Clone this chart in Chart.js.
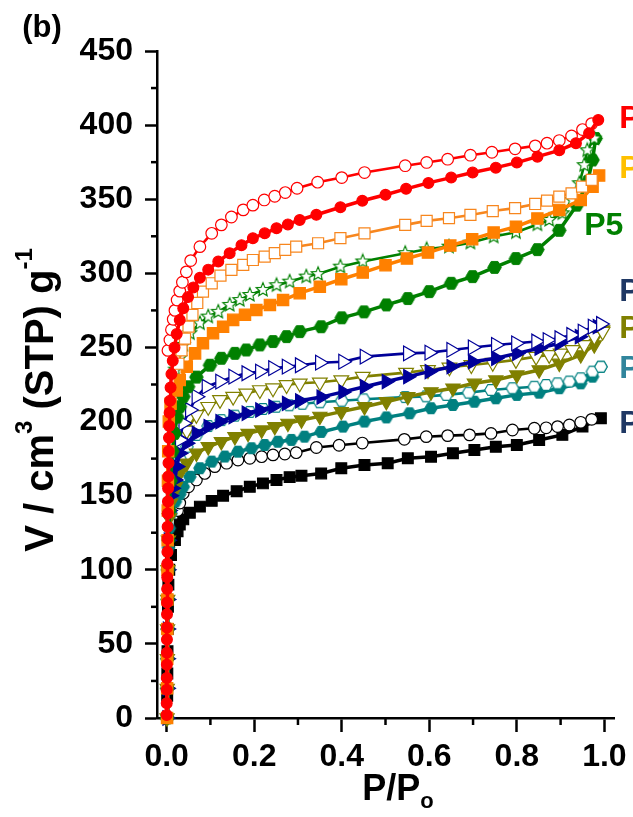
<!DOCTYPE html>
<html>
<head>
<meta charset="utf-8">
<script src="https://cdn.jsdelivr.net/npm/chart.js@4.4.0/dist/chart.umd.min.js"></script>
<style>
html, body { margin: 0; padding: 0; background: #fff; }
</style>
</head>
<body>
<canvas id="chart" width="633" height="817"></canvas>
<script>

// tick values
var xTicks = [0, 0.2, 0.4, 0.6, 0.8, 1.0];
var xMinor = [0.1, 0.3, 0.5, 0.7, 0.9];
var yTicks = [0, 50, 100, 150, 200, 250, 300, 350, 400, 450];
var yMinor = [25, 75, 125, 175, 225, 275, 325, 375, 425];

// red (adsorption filled circles / desorption open circles)
var redAdsX = [0.0001,0.0002,0.0003,0.0004,0.0005,0.0006,0.0007,0.0008,0.0009,0.001,0.0012,0.0014,0.0016,0.0018,0.002,0.0023,0.0026,0.003,0.0034,0.0038,0.0043,0.0048,0.0054,0.006,0.0068,0.0078,0.009,0.011,0.014,0.018,0.023,0.03,0.038,0.049,0.061,0.076,0.095,0.118,0.144,0.171,0.197,0.224,0.251,0.277,0.304,0.342,0.397,0.447,0.5,0.547,0.598,0.65,0.699,0.752,0.8,0.847,0.897,0.935,0.965,0.986];
var redAdsY = [2,10,19,27,36,44,53,61,70,78,87,95,104,112,121,129,138,146,155,163,172,180,189,197,206,214,223,232,241,250,259,268.5,276.5,284,290.5,297,302.5,308,313.6,319,323.7,327,330.4,333,336,339.5,344.6,349,353,357,361,364.6,368,371.3,374.7,378.7,383,387.8,394.5,403.5];
var redDesX = [0.003,0.0075,0.011,0.015,0.019,0.024,0.03,0.036,0.045,0.055,0.076,0.103,0.125,0.148,0.175,0.197,0.223,0.247,0.271,0.298,0.345,0.4,0.452,0.545,0.594,0.642,0.694,0.743,0.796,0.842,0.869,0.897,0.925,0.95,0.971];
var redDesY = [248,255,262,269,275,282,288,294,301,308.6,318,327,332.7,338,342.8,346,349.5,352,354.5,357.4,361.5,364.6,368,372.6,374.8,377,379.7,381.7,384,386,387.8,389.6,392.7,397,401];

// orange (filled / open squares)
var orgAdsX = [0.001,0.0012,0.0014,0.0016,0.0018,0.002,0.0023,0.0026,0.003,0.0036,0.005,0.009,0.023,0.03,0.046,0.065,0.083,0.106,0.129,0.152,0.179,0.205,0.236,0.266,0.304,0.35,0.399,0.448,0.5,0.549,0.597,0.648,0.698,0.747,0.798,0.847,0.897,0.946,0.973,0.988];
var orgAdsY = [0,20,40,60,80,100,120,140,160,180,200,212,221,228,237,246,252.8,259.6,264,268.6,272,275.3,278.7,282,286.6,291,296,300.5,305.5,310,314,318.7,323,327.5,331.5,337,342.8,349.5,358.5,366];
var orgDesX = [0.027,0.034,0.042,0.05,0.059,0.07,0.083,0.103,0.123,0.148,0.175,0.197,0.224,0.247,0.271,0.296,0.346,0.397,0.452,0.545,0.594,0.645,0.694,0.745,0.796,0.842,0.869,0.897,0.925,0.949,0.971];
var orgDesY = [239,248,256,264,272,280,287.7,293.3,298.4,302.3,305.7,309,311.3,313.6,315.8,318,320.3,323.7,327,332.7,335.4,337.2,339.4,342,344,346.8,349,351.8,354,358.5,363];

// green P5 (filled hexagons / open stars)
var grnAdsX = [0.001,0.0013,0.0016,0.002,0.0025,0.003,0.004,0.006,0.009,0.013,0.018,0.024,0.03,0.038,0.049,0.068,0.099,0.125,0.156,0.182,0.213,0.243,0.274,0.304,0.353,0.4,0.451,0.502,0.551,0.6,0.65,0.699,0.749,0.798,0.847,0.897,0.937,0.962,0.973,0.98];
var grnAdsY = [0,20,40,60,80,100,120,140,160,180,192,203,210,216.8,223.5,230,238,242.7,246,248.3,251.7,254,257.3,260.7,264,270,274,278.7,283,287.7,293.3,297.8,304,310,316,329,346,362,376.5,391];
var grnDesX = [0.02,0.03,0.038,0.053,0.076,0.095,0.118,0.144,0.167,0.19,0.22,0.251,0.281,0.319,0.346,0.397,0.448,0.545,0.594,0.645,0.694,0.747,0.798,0.847,0.874,0.904,0.927,0.943,0.954,0.961,0.977];
var grnDesY = [235,243,251.7,259.6,266.3,270.8,274,278.7,282,285.4,288.8,292,294.4,297.8,299.5,304.5,308,313.6,316.2,318,320.7,324.8,327.7,333,336,340.5,349.5,360.8,373,383,391];

// navy (filled / open right triangles)
var navAdsX = [0.001,0.0013,0.0016,0.002,0.0025,0.003,0.004,0.006,0.009,0.013,0.019,0.023,0.03,0.046,0.068,0.095,0.122,0.152,0.182,0.213,0.243,0.274,0.304,0.353,0.403,0.452,0.502,0.551,0.6,0.65,0.699,0.752,0.8,0.851,0.897,0.943,0.984];
var navAdsY = [0,20,40,60,80,100,120,140,150,155,160.6,169.6,178.6,185.4,192,196.6,200,203.3,205.6,207.8,210,212.3,214,216.5,220,223.5,227,230.3,233.7,237,240.4,242.7,246,249.5,252.8,257.3,264];
var navDesX = [0.03,0.038,0.053,0.068,0.091,0.122,0.152,0.182,0.213,0.243,0.274,0.304,0.35,0.403,0.452,0.551,0.6,0.65,0.699,0.752,0.798,0.844,0.87,0.897,0.924,0.95,0.973,0.992];
var navDesY = [187.6,198.8,207.8,216.8,223.5,227,230.3,232.6,233.7,236,237,238,239.7,240.4,243.8,246,246.5,248.3,250,251.7,252.8,254,255,256.2,258.4,260.7,264,265.8];

// olive (filled / open down triangles)
var oliAdsX = [0.001,0.0013,0.0016,0.002,0.0025,0.003,0.004,0.006,0.009,0.014,0.02,0.03,0.046,0.068,0.095,0.125,0.156,0.186,0.217,0.247,0.277,0.308,0.35,0.399,0.452,0.502,0.551,0.604,0.654,0.703,0.752,0.8,0.851,0.897,0.946,0.977,0.996];
var oliAdsY = [0,20,40,60,80,100,120,135,145,151,156,165,171.9,178.6,183,186.4,189.8,192,194.3,196.6,198.8,201,203.5,206.7,210,213.4,216.8,220,222.5,225.8,228,231.4,234.8,239.3,245,251.7,261.8];
var oliDesX = [0.038,0.046,0.068,0.095,0.122,0.152,0.182,0.213,0.243,0.274,0.304,0.35,0.399,0.448,0.547,0.597,0.646,0.696,0.745,0.798,0.844,0.874,0.9,0.927,0.954,0.977,0.996];
var oliDesY = [189.8,194,204.5,210,214.6,216.8,219,221.3,222.5,224.7,225.8,226.5,228,230.3,233,234.8,236.6,238.2,239.7,241.6,243.8,245,246,248.3,251.7,257.3,260.7];

// teal (filled / open hexagons)
var tealAdsX = [0.001,0.0013,0.0016,0.002,0.0025,0.003,0.004,0.006,0.01,0.02,0.03,0.038,0.053,0.076,0.103,0.133,0.163,0.194,0.224,0.254,0.285,0.315,0.353,0.403,0.452,0.502,0.555,0.604,0.654,0.703,0.752,0.8,0.851,0.897,0.946,0.973,0.992];
var tealAdsY = [0,20,40,60,80,100,115,128,138,146,151,156,162.8,168.5,173,176.4,179.7,182,184.2,186.4,187.6,189.8,193,196.6,200,202.8,205.6,209,211.2,213.4,215.7,218,219.5,222.5,225.8,230.3,237];
var tealDesX = [0.03,0.046,0.068,0.095,0.125,0.156,0.19,0.22,0.25,0.28,0.31,0.35,0.4,0.45,0.545,0.593,0.639,0.69,0.741,0.79,0.84,0.867,0.893,0.92,0.946,0.973,0.992];
var tealDesY = [175,183,191,197,201,204,206.5,208.5,210,211,212,213,214,215,216.5,217,218,219.5,221.3,222.5,223.5,224.7,225.8,227,229.2,233.7,237];

// black (filled squares / open circles)
var blkAdsX = [0.001,0.0013,0.0016,0.002,0.0025,0.003,0.004,0.006,0.01,0.019,0.025,0.03,0.038,0.053,0.076,0.103,0.129,0.16,0.19,0.22,0.251,0.281,0.308,0.353,0.399,0.452,0.505,0.551,0.604,0.654,0.703,0.752,0.8,0.851,0.904,0.95,0.992];
var blkAdsY = [0,15,30,45,60,75,90,100,110,120,126,130.5,134,138.5,142.6,146.5,150,153,156,158.3,160.6,162.5,163.5,165,168.5,170.7,171.9,175.2,176.3,178.6,180.8,183,184.2,187.6,191,196.6,202.2];
var blkDesX = [0.025,0.03,0.038,0.05,0.068,0.087,0.11,0.137,0.163,0.19,0.217,0.243,0.27,0.296,0.342,0.394,0.447,0.543,0.593,0.642,0.692,0.741,0.79,0.84,0.867,0.893,0.92,0.946,0.971];
var blkDesY = [140,145,151.6,156,160.6,165,169.6,171.9,174,175.2,176.3,177.5,178.1,179,182.5,184,185.5,188,189.8,190.5,191,192,194.3,195.5,195.8,196.6,197.7,199.5,201.5];

// curve labels at the right edge (text, colour, x, y in data units)
var curveLabels = [
	['P', '#ff0000', 1.034, 404],
	['P', '#ffc000', 1.034, 370],
	['P5', '#008000', 0.954, 332],
	['P', '#1f3864', 1.034, 287],
	['P', '#808000', 1.034, 262],
	['P', '#31859c', 1.034, 235.5],
	['P', '#1f3864', 1.034, 198.5]
];

var FONT = '"Liberation Sans", Arial, sans-serif';

function pts(xs, ys) {
	return xs.map(function(x, i) { return {x: x, y: ys[i]}; });
}

function polyImg(n, r, inner, fill, stroke, lw, start) {
	var s = Math.ceil(2 * r + lw + 2);
	var c = document.createElement('canvas');
	c.width = s; c.height = s;
	var g = c.getContext('2d');
	g.beginPath();
	var k = inner ? n * 2 : n;
	for (var i = 0; i < k; i++) {
		var a = start + i * 2 * Math.PI / k;
		var rr = (inner && i % 2) ? r * inner : r;
		var px = s / 2 + rr * Math.cos(a), py = s / 2 + rr * Math.sin(a);
		if (i) g.lineTo(px, py); else g.moveTo(px, py);
	}
	g.closePath();
	g.fillStyle = fill; g.fill();
	g.lineWidth = lw; g.strokeStyle = stroke; g.stroke();
	return c;
}

var hexGreen = polyImg(6, 6.8, 0, '#008000', '#008000', 1, 0);
var hexTeal = polyImg(6, 6.3, 0, '#008080', '#008080', 1, 0);
var hexTealOpen = polyImg(6, 6.3, 0, '#ffffff', '#008080', 1.2, 0);
var starGreen = polyImg(5, 7.2, 0.45, '#ffffff', '#008000', 1.1, -Math.PI / 2);

function series(xs, ys, color, lw, style, radius, fill, rot) {
	return {
		data: pts(xs, ys),
		showLine: true,
		borderColor: color,
		borderWidth: lw,
		pointStyle: style,
		pointRadius: radius,
		pointBackgroundColor: fill,
		pointBorderColor: color,
		pointBorderWidth: 1.2,
		pointRotation: rot || 0,
		clip: false
	};
}

var datasets = [
	series(redAdsX, redAdsY, '#ff0000', 3.5, 'circle', 5.4, '#ff0000'),
	series(redDesX, redDesY, '#ff0000', 2.6, 'circle', 5.8, '#ffffff'),
	series(orgDesX, orgDesY, '#f7861e', 2.6, 'rect', 7.8, '#ffffff'),
	series(orgAdsX, orgAdsY, '#ff8000', 3.5, 'rect', 8, '#ff8000'),
	series(grnDesX, grnDesY, '#008000', 2.6, starGreen, 7, '#ffffff'),
	series(grnAdsX, grnAdsY, '#008000', 3.5, hexGreen, 7, '#008000'),
	series(navDesX, navDesY, '#000099', 2.6, 'triangle', 8.5, '#ffffff', 90),
	series(navAdsX, navAdsY, '#000099', 3.5, 'triangle', 8.2, '#000099', 90),
	series(oliDesX, oliDesY, '#808000', 2.6, 'triangle', 8.5, '#ffffff', 180),
	series(oliAdsX, oliAdsY, '#808000', 3.5, 'triangle', 8.2, '#808000', 180),
	series(tealDesX, tealDesY, '#008080', 2.6, hexTealOpen, 6.3, '#ffffff'),
	series(tealAdsX, tealAdsY, '#008080', 3.5, hexTeal, 6.3, '#008080'),
	series(blkDesX, blkDesY, '#000000', 2.6, 'circle', 5.8, '#ffffff'),
	series(blkAdsX, blkAdsY, '#000000', 3.5, 'rect', 7.6, '#000000')
];

function drawParts(ctx, parts, cx, cy, rot) {
	ctx.save();
	ctx.translate(cx, cy);
	ctx.rotate(rot);
	ctx.textAlign = 'left';
	ctx.textBaseline = 'alphabetic';
	var total = 0;
	parts.forEach(function(p) { ctx.font = p.font; p.w = ctx.measureText(p.t).width; total += p.w; });
	var x = -total / 2;
	parts.forEach(function(p) { ctx.font = p.font; ctx.fillText(p.t, x, p.dy); x += p.w; });
	ctx.restore();
}

var decor = {
	id: 'decor',
	afterDraw: function(chart) {
		var ctx = chart.ctx;
		var xs = chart.scales.x, ys = chart.scales.y;
		var ca = chart.chartArea;
		ctx.save();
		ctx.strokeStyle = '#000';
		ctx.lineWidth = 2.5;
		xMinor.forEach(function(v) {
			var px = xs.getPixelForValue(v);
			ctx.beginPath(); ctx.moveTo(px, ca.bottom); ctx.lineTo(px, ca.bottom + 7); ctx.stroke();
		});
		yMinor.forEach(function(v) {
			var py = ys.getPixelForValue(v);
			ctx.beginPath(); ctx.moveTo(ca.left, py); ctx.lineTo(ca.left - 6, py); ctx.stroke();
		});
		ctx.fillStyle = '#000';
		// axis titles
		drawParts(ctx, [
			{t: 'V / cm', font: 'bold 40px ' + FONT, dy: 0},
			{t: '3', font: 'bold 24px ' + FONT, dy: -21},
			{t: ' (STP) g', font: 'bold 40px ' + FONT, dy: 0},
			{t: '-1', font: 'bold 24px ' + FONT, dy: -21}
		], 53, 400, -Math.PI / 2);
		drawParts(ctx, [
			{t: 'P/P', font: 'bold 36px ' + FONT, dy: 0},
			{t: 'o', font: 'bold 22px ' + FONT, dy: 8}
		], 398, 800, 0);
		// panel letter
		ctx.font = 'bold 31px ' + FONT;
		ctx.textAlign = 'center';
		ctx.textBaseline = 'middle';
		ctx.fillText('(b)', 42, 28);
		// curve labels
		ctx.font = 'bold 32px ' + FONT;
		ctx.textAlign = 'left';
		curveLabels.forEach(function(l) {
			ctx.fillStyle = l[1];
			ctx.fillText(l[0], xs.getPixelForValue(l[2]), ys.getPixelForValue(l[3]));
		});
		ctx.restore();
	}
};

var tickFont = {family: FONT, size: 32, weight: 'bold'};

var chart = new Chart(document.getElementById('chart'), {
	type: 'scatter',
	data: {datasets: datasets},
	options: {
		responsive: false,
		animation: false,
		events: [],
		elements: {line: {tension: 0}},
		layout: {padding: {left: 0, top: 51, right: 18, bottom: 0}},
		plugins: {legend: {display: false}, tooltip: {enabled: false}},
		scales: {
			x: {
				type: 'linear',
				min: -0.022,
				max: 1.022,
				afterBuildTicks: function(s) { s.ticks = xTicks.map(function(v) { return {value: v}; }); },
				afterFit: function(s) { s.height = 99; },
				ticks: {
					font: tickFont, color: '#000', padding: 6, maxRotation: 0, autoSkip: false,
					callback: function(v) { return Number(v).toFixed(1); }
				},
				grid: {drawOnChartArea: false, drawTicks: true, tickLength: 14, tickWidth: 2.5, tickColor: '#000'},
				border: {display: true, color: '#000', width: 2.5}
			},
			y: {
				type: 'linear',
				min: 0,
				max: 450,
				afterBuildTicks: function(s) { s.ticks = yTicks.map(function(v) { return {value: v}; }); },
				afterFit: function(s) { s.width = 157; },
				ticks: {font: tickFont, color: '#000', padding: 12, autoSkip: false},
				grid: {drawOnChartArea: false, drawTicks: true, tickLength: 12, tickWidth: 2.5, tickColor: '#000'},
				border: {display: true, color: '#000', width: 2.5}
			}
		}
	},
	plugins: [decor]
});
</script>
</body>
</html>
